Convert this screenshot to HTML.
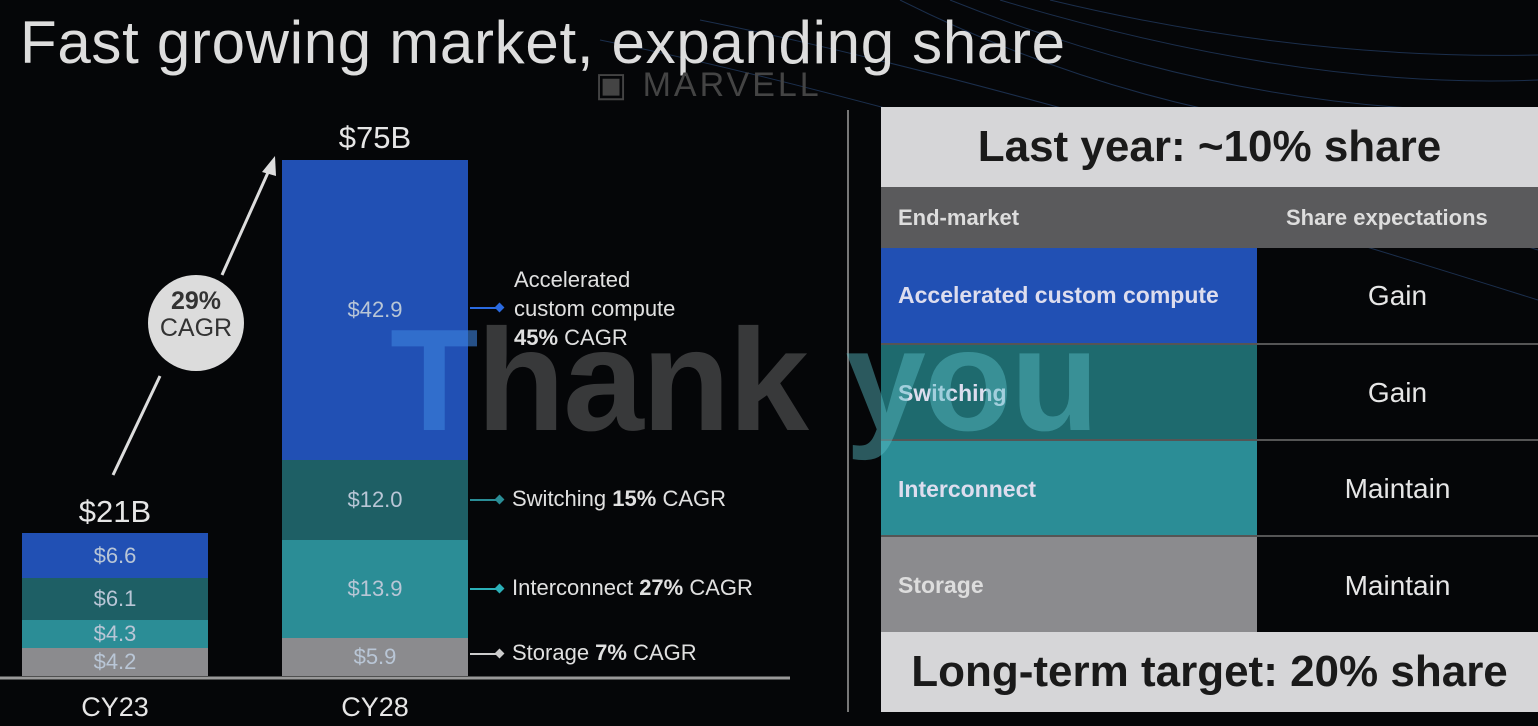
<!DOCTYPE html>
<html><head><meta charset="utf-8"><style>
body{margin:0;width:1538px;height:726px;background:#050608;overflow:hidden;position:relative;font-family:"Liberation Sans",sans-serif}
.a{position:absolute}
.t{color:#e6e6e6}
.seg{position:absolute;left:0;width:100%;color:#b9c6d6;font-size:22px;text-align:center}
.lbl{position:absolute;color:#e0e0e0;font-size:22px;left:512px}
.con{position:absolute;left:470px;width:30px;height:2px}
.dia{position:absolute;left:496px;width:7px;height:7px;transform:rotate(45deg)}
.row{position:absolute;left:881px;width:657px;border-top:2px solid #555}
.cell{position:absolute;left:0;width:376px;height:100%;color:#dde;font-weight:bold;font-size:23px;display:flex;align-items:center;padding-left:17px;box-sizing:border-box}
.val{position:absolute;left:376px;right:0;height:100%;display:flex;align-items:center;justify-content:center;color:#e6e6e6;font-size:28px}
</style></head><body>
<svg class="a" style="left:0;top:0" width="1538" height="726">
<g stroke="#2a4a7a" stroke-width="1" opacity="0.6" fill="none">
<path d="M900 0 Q1200 150 1538 140"/><path d="M950 0 Q1250 120 1538 110"/><path d="M1000 0 Q1300 90 1538 80"/><path d="M1050 0 Q1300 60 1538 55"/><path d="M600 40 Q900 100 1538 300"/><path d="M700 20 Q1000 80 1538 250"/>
</g>
<line x1="848" y1="110" x2="848" y2="712" stroke="#777" stroke-width="2"/>
<line x1="0" y1="678" x2="790" y2="678" stroke="#999" stroke-width="3"/>
<line x1="113" y1="475" x2="160" y2="376" stroke="#ddd" stroke-width="3"/>
<line x1="222" y1="275" x2="270" y2="168" stroke="#ddd" stroke-width="3"/>
<polygon points="275,156 262,172 276,176" fill="#ddd"/>
<circle cx="196" cy="323" r="48" fill="#dcdcdc"/>
</svg>
<div class="a t" style="left:20px;top:8px;font-size:60px;color:#ddd;letter-spacing:0.7px">Fast growing market, expanding share</div>
<div class="a" style="left:595px;top:65px;font-size:34px;color:#444;letter-spacing:3px">▣ MARVELL</div>
<div class="a" style="left:149px;top:288px;width:94px;text-align:center;color:#333;font-size:25px;line-height:27px"><b>29%</b><br>CAGR</div>
<div class="a t" style="left:22px;top:494px;width:186px;text-align:center;font-size:31px">$21B</div>
<div class="a t" style="left:282px;top:120px;width:186px;text-align:center;font-size:31px">$75B</div>
<div class="a" style="left:22px;top:533px;width:186px;height:143px">
<div class="seg" style="top:0;height:45px;background:#2150b4;line-height:45px">$6.6</div>
<div class="seg" style="top:45px;height:42px;background:#1e5f65;line-height:42px">$6.1</div>
<div class="seg" style="top:87px;height:28px;background:#2b8d96;line-height:28px">$4.3</div>
<div class="seg" style="top:115px;height:28px;background:#8b8b8e;line-height:28px">$4.2</div>
</div>
<div class="a" style="left:282px;top:160px;width:186px;height:516px">
<div class="seg" style="top:0;height:300px;background:#2150b4;line-height:300px">$42.9</div>
<div class="seg" style="top:300px;height:80px;background:#1e5f65;line-height:80px">$12.0</div>
<div class="seg" style="top:380px;height:98px;background:#2b8d96;line-height:98px">$13.9</div>
<div class="seg" style="top:478px;height:38px;background:#8b8b8e;line-height:38px">$5.9</div>
</div>
<div class="con" style="top:307px;background:#2a6ae0"></div><div class="dia" style="top:304px;background:#2a6ae0"></div>
<div class="con" style="top:499px;background:#2a8d96"></div><div class="dia" style="top:496px;background:#2a8d96"></div>
<div class="con" style="top:588px;background:#2bb0b8"></div><div class="dia" style="top:585px;background:#2bb0b8"></div>
<div class="con" style="top:653px;background:#ccc"></div><div class="dia" style="top:650px;background:#ccc"></div>
<div class="lbl" style="left:514px;top:265px;line-height:29px;font-size:22px">Accelerated<br>custom compute<br><b>45%</b> CAGR</div>
<div class="lbl" style="top:486px">Switching <b>15%</b> CAGR</div>
<div class="lbl" style="top:575px">Interconnect <b>27%</b> CAGR</div>
<div class="lbl" style="top:640px">Storage <b>7%</b> CAGR</div>
<div class="a t" style="left:22px;top:692px;width:186px;text-align:center;font-size:27px">CY23</div>
<div class="a t" style="left:282px;top:692px;width:186px;text-align:center;font-size:27px">CY28</div>
<div class="a" style="left:881px;top:107px;width:657px;height:80px;background:#d6d6d8;color:#1a1a1a;font-weight:bold;font-size:44px;text-align:center;line-height:80px">Last year: ~10% share</div>
<div class="a" style="left:881px;top:187px;width:657px;height:61px;background:#5a5a5c;color:#ddd;font-weight:bold;font-size:22px;line-height:61px"><span style="margin-left:17px">End-market</span><span style="position:absolute;left:405px">Share expectations</span></div>
<div class="row" style="top:248px;height:95px;border-top:none"><div class="cell" style="background:#2150b4">Accelerated custom compute</div><div class="val">Gain</div></div>
<div class="row" style="top:343px;height:96px"><div class="cell" style="background:#1e6a6e">Switching</div><div class="val">Gain</div></div>
<div class="row" style="top:439px;height:96px"><div class="cell" style="background:#2b8d96">Interconnect</div><div class="val">Maintain</div></div>
<div class="row" style="top:535px;height:97px"><div class="cell" style="background:#8b8b8e;color:#ddd">Storage</div><div class="val">Maintain</div></div>
<div class="a" style="left:881px;top:632px;width:657px;height:80px;background:#d6d6d8;color:#1a1a1a;font-weight:bold;font-size:44px;text-align:center;line-height:80px">Long-term target: 20% share</div>
<div class="a" style="left:390px;top:300px;font-size:145px;line-height:160px;font-weight:bold;color:rgba(120,120,120,0.45);letter-spacing:-2px;white-space:nowrap"><span style="color:rgba(60,130,220,0.6)">T</span>hank <span style="color:rgba(90,190,200,0.45)">you</span></div>
</body></html>
